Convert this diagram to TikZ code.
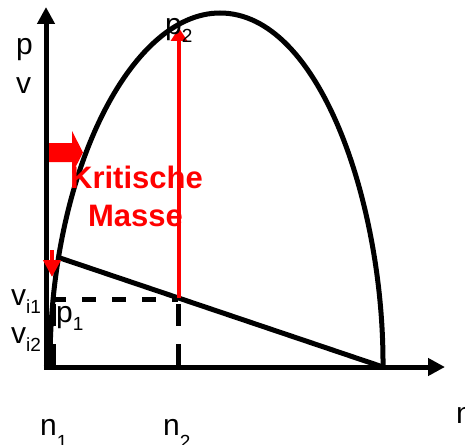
\documentclass[tikz,border=0pt]{standalone}
\usepackage{fontspec}
\setmainfont{Liberation Sans}
\usetikzlibrary{arrows.meta}
\newcommand\lowsub[2][8pt]{\raisebox{-#1}{\fontsize{19}{19}\selectfont #2}}
\begin{document}
\begin{tikzpicture}[x=1pt,y=-1pt,
  lbl/.style={font=\fontsize{30}{30}\selectfont, inner sep=0pt, anchor=base west},
  axisline/.style={line width=5pt, -{Triangle[length=17pt,width=17pt]}},
  heavy/.style={line width=5pt},
  dashline/.style={line width=5pt, dash pattern=on 14pt off 16pt},
  dashvert/.style={line width=5pt, dash pattern=on 22pt off 18pt},
  redarrow/.style={red, line width=4pt, -{Triangle[length=13pt,width=16pt]}},
  crit/.style={red, font=\fontsize{31}{31}\selectfont\bfseries, inner sep=0pt, anchor=base}]
\useasboundingbox (0,0) rectangle (465,444);

% coordinates
\coordinate (Ybot) at (46,369.5);
\coordinate (Ytop) at (46,7);
\coordinate (Xbeg) at (43.5,367);
\coordinate (Xend) at (445,367);
\coordinate (Cstart) at (50,367);
\coordinate (Cpeak) at (220,13);
\coordinate (Cend) at (383,367);
\coordinate (Lstart) at (57,257);
\coordinate (H1a) at (52,299);
\coordinate (H1b) at (178,299);
\coordinate (V2a) at (178,304);
\coordinate (V2b) at (178,367);
\coordinate (V1a) at (53,304);
\coordinate (V1b) at (53,367);
\coordinate (P1) at (179,298);
\coordinate (P2) at (179,28);
\coordinate (Da) at (52,250);
\coordinate (Db) at (52,277);

% block arrow
\fill[red] (47,143) -- (72,143) -- (72,131) -- (83,152.5) -- (72,174) -- (72,162) -- (47,162) -- cycle;

% axes
\draw[axisline] (Ybot) -- (Ytop);
\draw[axisline] (Xbeg) -- (Xend);

% curve
\draw[heavy] (Cstart) .. controls (49,175) and (130,13) .. (Cpeak)
  .. controls (320,13) and (384,205) .. (Cend);

% straight line
\draw[heavy] (Lstart) -- (Cend);

% dashed
\draw[dashline] (H1a) -- (H1b);
\draw[dashvert] (V2a) -- (V2b);
\draw[dashvert] (V1a) -- (V1b);

% red arrows
\draw[redarrow] (P1) -- (P2);
\draw[red, line width=4pt, -{Triangle[length=17pt,width=17pt]}] (Da) -- (Db);

% labels
\node[lbl] (lp) at (16,55) {p};
\node[lbl] (lv) at (16,93) {v};
\node[lbl] (lvi1) at (11,305) {v\lowsub{i1}};
\node[lbl] (lvi2) at (11,343) {v\lowsub{i2}};
\node[lbl] (lp1) at (56,322) {p\lowsub{1}};
\node[lbl] (lp2) at (165,35) {p\lowsub{2}};
\node[lbl] (ln1) at (40,435) {n\lowsub[13pt]{1}};
\node[lbl] (ln2) at (163,435) {n\lowsub[13pt]{2}};
\node[lbl] (ln) at (456,423) {n};
\node[crit] (k1) at (136.5,188) {Kritische};
\node[crit] (k2) at (135.5,226) {Masse};
\end{tikzpicture}
\end{document}
